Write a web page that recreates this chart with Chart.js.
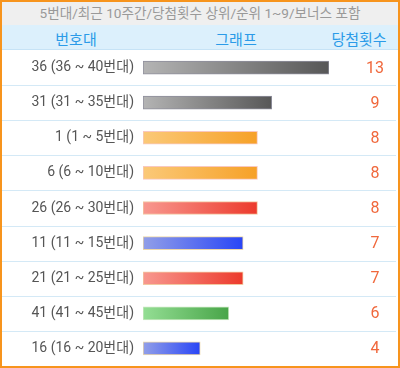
<!DOCTYPE html>
<html lang="ko">
<head>
<meta charset="UTF-8">
<script src="https://cdn.jsdelivr.net/npm/chart.js@4/dist/chart.umd.min.js"></script>
<style>
  * { box-sizing: border-box; }
  body { margin: 0; background: #fff; font-family: Roboto, 'Noto Sans CJK KR', sans-serif; }
  .frame { width: 400px; height: 368px; border: 2px solid #f7941d; overflow: hidden; }
  .title { height: 23px; line-height: 23px; background: #efefef; color: #999;
           font-size: 13.6px; text-align: center; white-space: nowrap; }
  .head  { height: 25px; background: #dcf0fc; border-bottom: 1px solid #c6e3f6;
           color: #2b9be8; font-size: 15px; position: relative; }
  .head span { position: absolute; top: 3px; transform: translateX(-50%); white-space: nowrap; }
  .box { position: relative; width: 396px; height: 316px; }
</style>
</head>
<body>
<div class="frame">
  <div class="title">5번대/최근 10주간/당첨횟수 상위/순위 1~9/보너스 포함</div>
  <div class="head">
    <span style="left:74px">번호대</span>
    <span style="left:234px">그래프</span>
    <span style="left:357px">당첨횟수</span>
  </div>
  <div class="box"><canvas id="c" width="396" height="316"></canvas></div>
</div>
<script>
// 번호대 / 당첨횟수
const ranges = ['36 (36 ~ 40번대)', '31 (31 ~ 35번대)', '1 (1 ~ 5번대)', '6 (6 ~ 10번대)',
                '26 (26 ~ 30번대)', '11 (11 ~ 15번대)', '21 (21 ~ 25번대)', '41 (41 ~ 45번대)',
                '16 (16 ~ 20번대)'];
const counts = [13, 9, 8, 8, 8, 7, 7, 6, 4];
const ballGroup = ['gray', 'gray', 'yellow', 'yellow', 'red', 'blue', 'red', 'green', 'blue'];

const GRAD = {
  gray:   ['#b4b4b4', '#575757', '#8e8e9c'],
  yellow: ['#fbc978', '#f6a128', '#f8c8c0'],
  red:    ['#f8988f', '#ec3a2b', '#f2c8a0'],
  blue:   ['#929fe8', '#2945f6', '#eed8a8'],
  green:  ['#94de94', '#48a548', '#c8e8c0'],
};

function barFill(ctx) {
  const chart = ctx.chart;
  const g = GRAD[ballGroup[ctx.dataIndex]];
  const xs = chart.scales.x;
  if (!chart.chartArea || !xs) return g[1];
  const x0 = xs.getPixelForValue(0);
  const x1 = xs.getPixelForValue(counts[ctx.dataIndex]);
  const grad = chart.ctx.createLinearGradient(x0, 0, x1, 0);
  grad.addColorStop(0, g[0]);
  grad.addColorStop(1, g[1]);
  return grad;
}

// 행 구분선 + 오른쪽 당첨횟수
const rowPlugin = {
  id: 'rows',
  beforeDraw(chart) {
    const { ctx, scales: { y } } = chart;
    ctx.save();
    ctx.strokeStyle = '#d4e9f6';
    ctx.lineWidth = 1;
    for (let i = 1; i < ranges.length; i++) {
      const yy = Math.round((y.getPixelForValue(i - 1) + y.getPixelForValue(i)) / 2) + 0.5;
      ctx.beginPath();
      ctx.moveTo(0, yy);
      ctx.lineTo(394, yy);
      ctx.stroke();
    }
    ctx.restore();
  },
  afterDatasetsDraw(chart) {
    const { ctx, scales: { y } } = chart;
    ctx.save();
    ctx.fillStyle = '#f0683c';
    ctx.font = '16px Roboto, sans-serif';
    ctx.textAlign = 'center';
    ctx.textBaseline = 'middle';
    counts.forEach((v, i) => ctx.fillText(String(v), 373, y.getPixelForValue(i) + 1));
    ctx.restore();
  }
};

new Chart(document.getElementById('c'), {
  type: 'bar',
  plugins: [rowPlugin],
  data: {
    labels: ranges,
    datasets: [{
      data: counts,
      backgroundColor: barFill,
      borderColor: (ctx) => GRAD[ballGroup[ctx.dataIndex]][2],
      borderWidth: 1,
      borderSkipped: false,
      barThickness: 13,
    }]
  },
  options: {
    indexAxis: 'y',
    responsive: false,
    animation: false,
    layout: { padding: { left: 0, right: 69, top: 0, bottom: 0 } },
    plugins: { legend: { display: false }, tooltip: { enabled: false } },
    scales: {
      x: { display: false, min: 0, max: 13 },
      y: {
        grid: { display: false, drawTicks: false },
        border: { display: false },
        ticks: { color: '#555', padding: 9, font: { family: "Roboto, 'Noto Sans CJK KR'", size: 14 } },
        afterFit(scale) {
          scale.width = 141;
          scale.paddingTop = 0;
          scale.paddingBottom = 0;
        }
      }
    }
  }
});
</script>
</body>
</html>
